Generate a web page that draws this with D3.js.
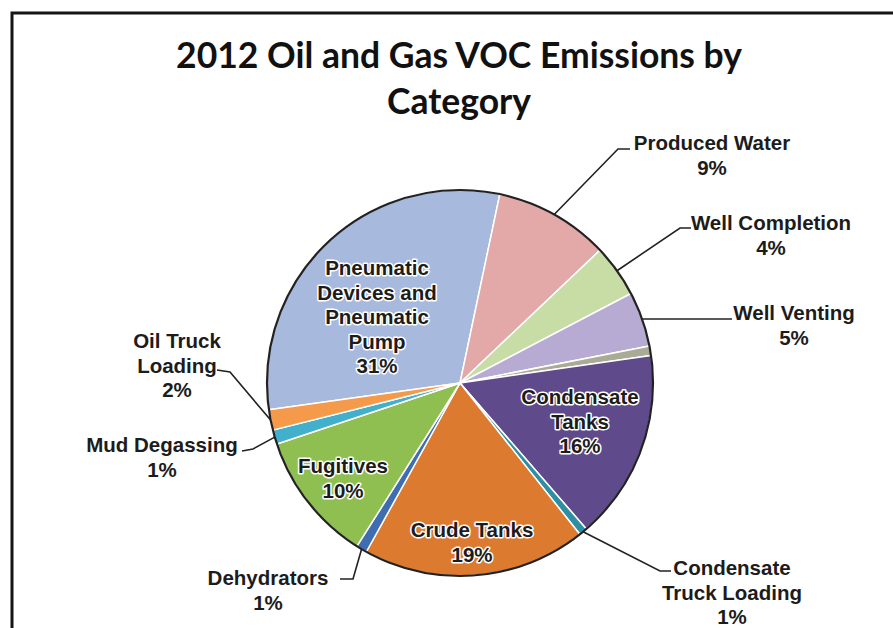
<!DOCTYPE html>
<html>
<head>
<meta charset="utf-8">
<script src="https://cdn.jsdelivr.net/npm/d3@7"></script>
<style>
  body { margin: 0; background: #fff; }
  text { font-family: "Liberation Sans", Arial, sans-serif; }
</style>
</head>
<body>
<script>
// chart data (percent of total VOC)
const categories = ["Pneumatic Devices and Pneumatic Pump", "Produced Water", "Well Completion", "Well Venting",
  "Other", "Condensate Tanks", "Condensate Truck Loading", "Crude Tanks", "Dehydrators", "Fugitives",
  "Mud Degassing", "Oil Truck Loading"];
const shares = [30.5, 9.6, 4.4, 4.6, 0.8, 15.9, 0.7, 18.7, 0.9, 10.9, 1.2, 1.7];
const pctLabels = ["31%", "9%", "4%", "5%", "", "16%", "1%", "19%", "1%", "10%", "1%", "2%"];
const labelLines = [
  ["Pneumatic", "Devices and", "Pneumatic", "Pump"],
  ["Produced Water"], ["Well Completion"], ["Well Venting"], [],
  ["Condensate", "Tanks"], ["Condensate", "Truck Loading"], ["Crude Tanks"],
  ["Dehydrators"], ["Fugitives"], ["Mud Degassing"], ["Oil Truck", "Loading"]
];
const sliceColors = ["#a7b9dc", "#e3a9a8", "#c8dca6", "#b8abd3", "#a9ab97", "#5f4a8c",
  "#2f8fa2", "#dc7b30", "#3f6db1", "#8fbe51", "#40b0cc", "#f5994b"];

const width = 893, height = 628;
const cx = 460, cy = 383, radius = 193;
const startDeg = 262;

// label layout: centre x, first baseline, inside or outside, leader elbow/end
const labelLayout = [
  { x: 377, y: 275, inside: true },
  { x: 712, y: 150, elbow: [618, 149], end: [630, 149] },
  { x: 771, y: 230, elbow: [680, 228], end: [691, 228] },
  { x: 794, y: 320, elbow: null, end: [732, 319] },
  null,
  { x: 580, y: 404, inside: true },
  { x: 732, y: 575, elbow: [660, 571], end: [671, 571] },
  { x: 472, y: 537, inside: true },
  { x: 268, y: 585, elbow: [353, 579], end: [340, 579] },
  { x: 343, y: 473, inside: true },
  { x: 162, y: 452, elbow: [253, 449], end: [242, 451] },
  { x: 177, y: 348, elbow: [230, 372], end: [217, 370] }
];

const svg = d3.select("body").append("svg")
  .attr("width", width)
  .attr("height", height);

// chart frame (runs off right and bottom like the crop)
svg.append("rect")
  .attr("x", 12).attr("y", 13)
  .attr("width", width + 20).attr("height", height + 20)
  .attr("fill", "#fff")
  .attr("stroke", "#151515")
  .attr("stroke-width", 3);

// title
const title = svg.append("text")
  .attr("text-anchor", "middle")
  .style("font-family", "Lato, 'Open Sans', sans-serif")
  .style("font-weight", "bold")
  .style("font-size", "35.5px")
  .attr("fill", "#111");
title.append("tspan").attr("x", 459).attr("y", 68).text("2012 Oil and Gas VOC Emissions by");
title.append("tspan").attr("x", 459).attr("y", 114).text("Category");

const data = categories.map((c, i) => ({ name: c, value: shares[i], i: i }));

const pie = d3.pie()
  .sort(null)
  .value(d => d.value)
  .startAngle(startDeg * Math.PI / 180)
  .endAngle((startDeg + 360) * Math.PI / 180);

const arc = d3.arc().innerRadius(0).outerRadius(radius);
const arcs = pie(data);

const g = svg.append("g").attr("transform", `translate(${cx},${cy})`);

g.selectAll("path.slice")
  .data(arcs)
  .enter()
  .append("path")
  .attr("class", "slice")
  .attr("d", arc)
  .attr("fill", d => sliceColors[d.data.i])
  .attr("stroke", "#fff")
  .attr("stroke-width", 1.5)
  .attr("stroke-linejoin", "round");

// outer rim
g.append("circle")
  .attr("r", radius)
  .attr("fill", "none")
  .attr("stroke", "#222")
  .attr("stroke-width", 2.2);

// leader lines
arcs.forEach(d => {
  const lay = labelLayout[d.data.i];
  if (!lay || lay.inside) return;
  const mid = (d.startAngle + d.endAngle) / 2;
  const start = [cx + radius * Math.sin(mid), cy - radius * Math.cos(mid)];
  const pts = [start];
  if (lay.elbow) pts.push(lay.elbow);
  pts.push(lay.end);
  svg.append("path")
    .attr("d", d3.line()(pts))
    .attr("fill", "none")
    .attr("stroke", "#222")
    .attr("stroke-width", 1.6);
});

// labels
const lineH = 24.5;
arcs.forEach(d => {
  const i = d.data.i;
  const lay = labelLayout[i];
  if (!lay) return;
  const lines = labelLines[i].concat([pctLabels[i]]);
  const t = svg.append("text")
    .attr("text-anchor", "middle")
    .style("font-size", "20.5px")
    .style("font-weight", "bold")
    .attr("fill", "#1c1c1c");
  if (lay.inside) {
    t.attr("stroke", "#fff")
      .attr("stroke-width", 3)
      .attr("stroke-linejoin", "round")
      .style("paint-order", "stroke");
  }
  lines.forEach((s, k) => {
    t.append("tspan").attr("x", lay.x).attr("y", lay.y + k * lineH).text(s);
  });
});
</script>
</body>
</html>
